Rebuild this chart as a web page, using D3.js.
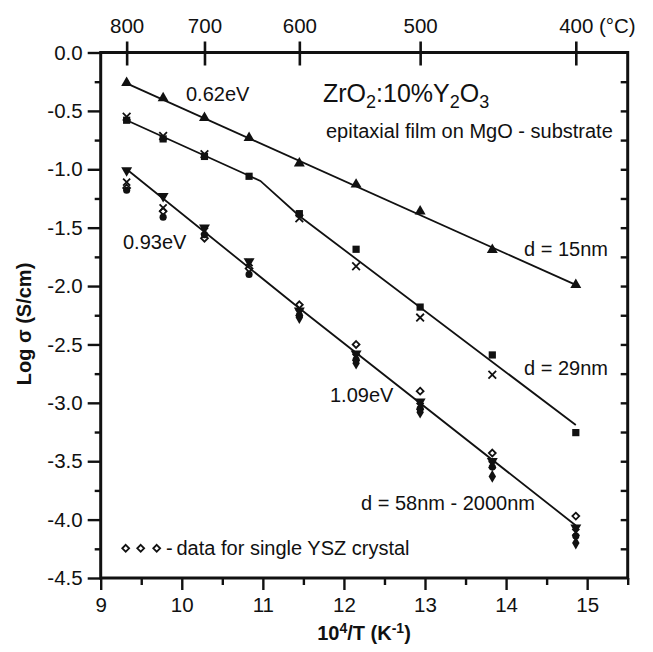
<!DOCTYPE html>
<html>
<head>
<meta charset="utf-8">
<script src="https://cdn.jsdelivr.net/npm/d3@7"></script>
<style>
  html, body { margin: 0; padding: 0; background: #fff; }
  svg { display: block; }
  text { font-family: "Liberation Sans", Arial, Helvetica, sans-serif; fill: #111; }
</style>
</head>
<body>
<svg id="chart" width="653" height="652"></svg>
<script>
// ---------------- data ----------------
// measurement temperatures (°C) and the matching 10^4/T positions (K^-1)
const tempsC = [800, 750, 700, 650, 600, 550, 500, 450, 400];
const invT   = [9.32, 9.77, 10.28, 10.83, 11.45, 12.15, 12.94, 13.83, 14.86];

// d = 15 nm (filled triangles)
const d15Tri      = [-0.26, -0.39, -0.56, -0.73, -0.95, -1.13, -1.36, -1.69, -1.99];
// d = 29 nm (filled squares and crosses)
const d29Square   = [-0.58, -0.74, -0.89, -1.06, -1.38, -1.685, -2.18, -2.59, -3.255];
const d29Cross    = [-0.55, -0.715, -0.87, null, -1.42, -1.83, -2.27, -2.76, null];
// d = 58 nm - 2000 nm group
const thickTriDown  = [-1.01, -1.23, -1.50, -1.79, -2.21, -2.58, -2.99, -3.50, -4.07];
const thickCross    = [-1.11, -1.33, -1.53, -1.80, -2.23, -2.61, -3.03, -3.53, -4.11];
const thickCircle   = [-1.18, -1.41, -1.56, -1.90, -2.25, -2.63, -3.05, -3.55, -4.14];
const thickDiamond  = [null, null, null, null, -2.27, -2.66, -3.08, -3.63, -4.20];
// single YSZ crystal (open diamonds)
const crystalOpen   = [-1.16, -1.36, -1.59, -1.85, -2.16, -2.50, -2.90, -3.43, -3.97];

// fitted lines (vertices)
const line15 = [[9.32, -0.265], [14.86, -1.99]];
const line29 = [[9.32, -0.58], [10.83, -1.055], [10.97, -1.10], [11.45, -1.40], [14.86, -3.19]];
const lineThick = [[9.32, -1.00], [11.45, -2.19], [14.86, -4.05]];

// tick labels
const xTickLabels = [9, 10, 11, 12, 13, 14, 15];
const yTickLabels = [0, -0.5, -1, -1.5, -2, -2.5, -3, -3.5, -4, -4.5];
const topTickLabels = ["800", "700", "600", "500", "400"];
const topTickPos    = [9.32, 10.28, 11.45, 12.94, 14.86];

// ---------------- drawing ----------------
const svg = d3.select("#chart");
const x = d3.scaleLinear().domain([9, 15.5]).range([100.7, 627.7]);
const y = d3.scaleLinear().domain([-4.5, 0]).range([578, 52.5]);

const FONT = '"Liberation Sans", Arial, Helvetica, sans-serif';
const tickFont = 20.5;

function styleAxis(g) {
  g.select(".domain").remove();
  g.selectAll(".tick line").attr("stroke", "#111").attr("stroke-width", 2.4);
  g.selectAll(".tick text").attr("fill", "#111").style("font-family", FONT).style("font-size", tickFont + "px");
}

// bottom axis: minor every 0.5, major at integers
svg.append("g").attr("transform", `translate(0,${y(-4.5)})`)
  .call(d3.axisBottom(x).tickValues(d3.range(9.5, 15.6, 1)).tickSize(7).tickFormat(""))
  .call(styleAxis);
svg.append("g").attr("transform", `translate(0,${y(-4.5)})`)
  .call(d3.axisBottom(x).tickValues(xTickLabels).tickSize(12).tickPadding(7).tickFormat(d3.format("d")))
  .call(styleAxis);

// left axis
svg.append("g").attr("transform", `translate(${x(9)},0)`)
  .call(d3.axisLeft(y).tickValues(d3.range(-4.25, 0, 0.5)).tickSize(6).tickFormat(""))
  .call(styleAxis);
svg.append("g").attr("transform", `translate(${x(9)},0)`)
  .call(d3.axisLeft(y).tickValues(yTickLabels).tickSize(13).tickPadding(5).tickFormat(d => d.toFixed(1)))
  .call(styleAxis);

// right axis: inward ticks every 0.25
svg.append("g").attr("transform", `translate(${x(15.5)},0)`)
  .call(d3.axisRight(y).tickValues(d3.range(-4.25, 0, 0.25)).tickSize(-7).tickFormat(""))
  .call(styleAxis);

// top axis: temperature ticks crossing the frame
const topAxis = svg.append("g").attr("transform", `translate(0,${y(0)})`)
  .call(d3.axisTop(x).tickValues(topTickPos).tickSize(11).tickPadding(9)
        .tickFormat((d, i) => topTickLabels[i]))
  .call(styleAxis);
topAxis.selectAll(".tick line").attr("y1", 13).attr("stroke-width", 2.6);
// "(°C)" after the 400 label
{
  const t400 = topAxis.selectAll(".tick text").filter((d, i) => i === 4);
  const w = t400.node().getComputedTextLength();
  topAxis.append("text")
    .attr("x", x(14.86) + w / 2 + 6)
    .attr("y", t400.attr("y"))
    .attr("dy", t400.attr("dy"))
    .attr("text-anchor", "start")
    .attr("fill", "#111")
    .style("font-family", FONT)
    .style("font-size", tickFont + "px")
    .text("(°C)");
}

// frame
svg.append("rect")
  .attr("x", x(9)).attr("y", y(0))
  .attr("width", x(15.5) - x(9)).attr("height", y(-4.5) - y(0))
  .attr("fill", "none").attr("stroke", "#111").attr("stroke-width", 3);

// fitted lines
const lineGen = d3.line().x(d => x(d[0])).y(d => y(d[1]));
[line15, line29, lineThick].forEach(l => {
  svg.append("path").attr("d", lineGen(l))
    .attr("fill", "none").attr("stroke", "#111").attr("stroke-width", 1.8);
});

// markers
function drawSeries(vals, type, size, opts = {}) {
  const pts = vals.map((v, i) => [invT[i], v]).filter(d => d[1] !== null);
  svg.append("g").selectAll("path").data(pts).join("path")
    .attr("d", d3.symbol().type(type).size(size))
    .attr("transform", d => `translate(${x(d[0])},${y(d[1])})${opts.rotate ? " rotate(" + opts.rotate + ")" : ""}`)
    .attr("fill", opts.open || opts.stroke ? "none" : "#111")
    .attr("stroke", opts.open || opts.stroke ? "#111" : "none")
    .attr("stroke-width", opts.open || opts.stroke ? 1.8 : 0);
}

drawSeries(d15Tri, d3.symbolTriangle, 52);
drawSeries(d29Square, d3.symbolSquare, 52);
drawSeries(d29Cross, d3.symbolX, 40, { stroke: true });
drawSeries(thickCircle, d3.symbolCircle, 40);
drawSeries(thickDiamond, d3.symbolDiamond, 48);
drawSeries(thickCross, d3.symbolX, 34, { stroke: true });
drawSeries(thickTriDown, d3.symbolTriangle, 52, { rotate: 180 });
drawSeries(crystalOpen, d3.symbolDiamond2, 30, { open: true });

// annotations
function label(txt, xx, yy, size, opts = {}) {
  return svg.append("text").attr("x", xx).attr("y", yy)
    .style("font-size", size + "px")
    .style("font-weight", opts.bold ? "bold" : "normal")
    .attr("text-anchor", opts.anchor || "start")
    .text(txt);
}
label("0.62eV", 186, 101, 20);
label("0.93eV", 123, 249, 20);
label("1.09eV", 330, 402, 20);
label("d = 15nm", 524, 256, 20);
label("d = 29nm", 524, 375, 20);
label("d = 58nm - 2000nm", 361, 510, 20);

// ZrO2:10%Y2O3
{
  const t = svg.append("text").attr("x", 323).attr("y", 102).style("font-size", "25px");
  const parts = [["ZrO", 0], ["2", 1], [":10%Y", 0], ["2", 1], ["O", 0], ["3", 1]];
  let shifted = false;
  parts.forEach(([s, sub]) => {
    const ts = t.append("tspan").text(s);
    if (sub) { ts.attr("dy", 6).style("font-size", "18px"); shifted = true; }
    else if (shifted) { ts.attr("dy", -6); shifted = false; }
  });
}
label("epitaxial film on MgO - substrate", 326, 138, 20);

// legend for single crystal
[125.7, 140.7, 156.7].forEach(px => {
  svg.append("path").attr("d", d3.symbol().type(d3.symbolDiamond2).size(30)())
    .attr("transform", `translate(${px},${548.3})`)
    .attr("fill", "none").attr("stroke", "#111").attr("stroke-width", 1.8);
});
label("-", 166, 555, 20);
label("data for single YSZ crystal", 176.5, 555, 20);

// axis titles
{
  const t = svg.append("text").attr("x", 364).attr("y", 640)
    .attr("text-anchor", "middle").style("font-size", "20px").style("font-weight", "bold");
  t.append("tspan").text("10");
  t.append("tspan").text("4").attr("dy", -7).style("font-size", "14px");
  t.append("tspan").text("/T (K").attr("dy", 7);
  t.append("tspan").text("-1").attr("dy", -7).style("font-size", "14px");
  t.append("tspan").text(")").attr("dy", 7);
}
svg.append("text")
  .attr("transform", "translate(31,324) rotate(-90)")
  .attr("text-anchor", "middle")
  .style("font-size", "20px").style("font-weight", "bold")
  .text("Log σ (S/cm)");
</script>
</body>
</html>
